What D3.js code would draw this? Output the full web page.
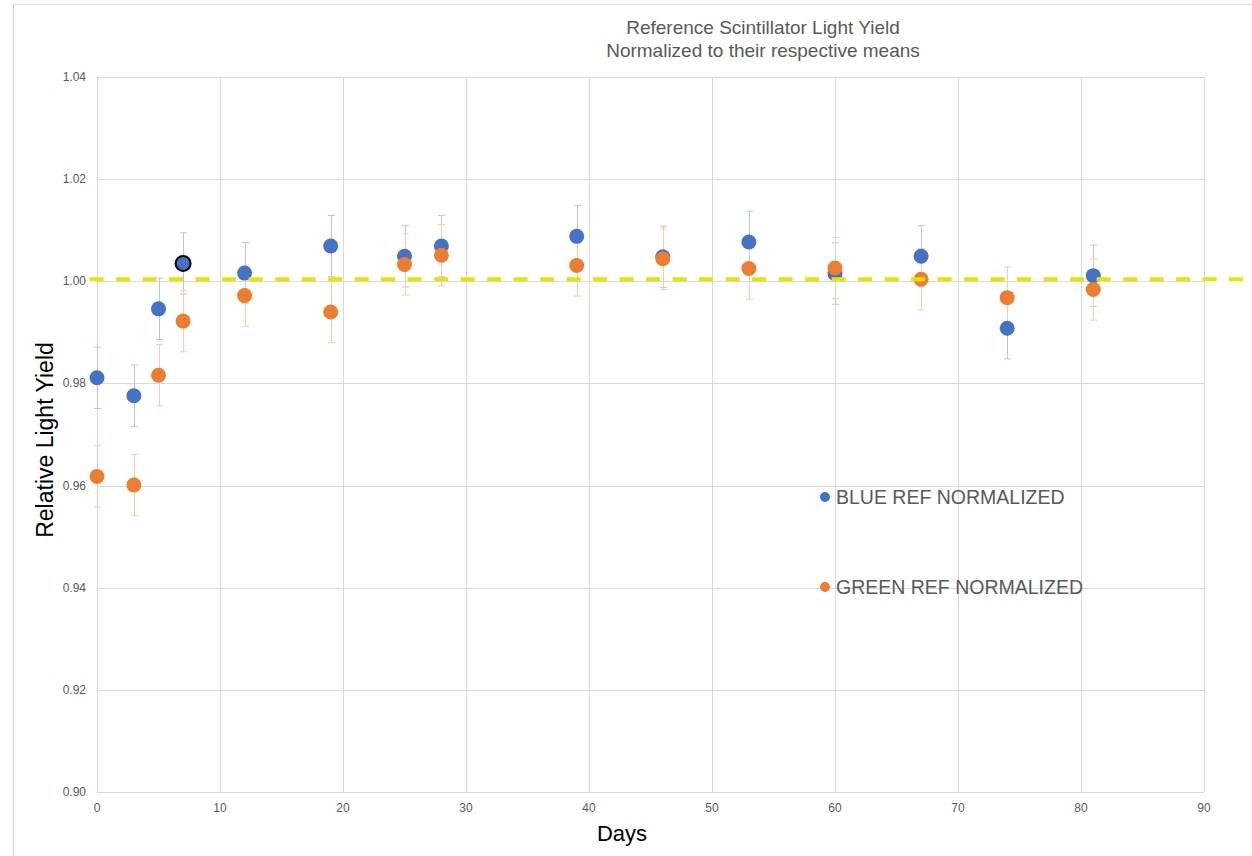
<!DOCTYPE html>
<html>
<head>
<meta charset="utf-8">
<script src="https://cdn.jsdelivr.net/npm/d3@7"></script>
<style>
  body { margin: 0; background: #fff; }
  svg { font-family: "Liberation Sans", Arial, sans-serif; }
  .grid line { stroke: #d9d9d9; stroke-width: 1; }
  .tick-label { fill: #595959; font-size: 12px; }
</style>
</head>
<body>
<svg id="chart" width="1252" height="856"></svg>
<script>
// data
var days = [0, 3, 5, 7, 12, 19, 25, 28, 39, 46, 53, 60, 67, 74, 81];
var blueRef = [0.9811, 0.9776, 0.9946, 1.0035, 1.0016, 1.0069, 1.0049, 1.0069, 1.0088, 1.0048, 1.0077, 1.0015, 1.0049, 0.9908, 1.0011];
var greenRef = [0.9618, 0.9601, 0.9816, 0.9922, 0.9972, 0.9940, 1.0033, 1.0051, 1.0031, 1.0044, 1.0025, 1.0026, 1.0004, 0.9968, 0.9984];
var blueErr = [0.006, 0.006, 0.006, 0.006, 0.006, 0.006, 0.006, 0.006, 0.006, 0.006, 0.006, 0.006, 0.006, 0.006, 0.006];
var greenErr = [0.006, 0.006, 0.006, 0.006, 0.006, 0.006, 0.006, 0.006, 0.006, 0.006, 0.006, 0.006, 0.006, 0.006, 0.006];
var xTicks = [0, 10, 20, 30, 40, 50, 60, 70, 80, 90];
var yTicks = [0.90, 0.92, 0.94, 0.96, 0.98, 1.00, 1.02, 1.04];
var meanLevel = 1.0004;
var meanSpan = [-0.6, 94.5];
var highlightDay = 7;

var svg = d3.select('#chart');

// outer chart frame (only top and left edges fall inside the picture)
svg.append('rect')
    .attr('x', 13.5).attr('y', 4.5)
    .attr('width', 1300).attr('height', 900)
    .attr('fill', 'none')
    .attr('stroke', '#d9d9d9');

var x = d3.scaleLinear().domain([0, 90]).range([97, 1204]);
var y = d3.scaleLinear().domain([0.90, 1.04]).range([792, 77]);

// gridlines
var grid = svg.append('g').attr('class', 'grid');
grid.selectAll('.hg').data(yTicks).enter().append('line')
    .attr('x1', x(0)).attr('x2', x(90))
    .attr('y1', function(d) { return Math.round(y(d)) + 0.5; })
    .attr('y2', function(d) { return Math.round(y(d)) + 0.5; });
grid.selectAll('.vg').data(xTicks).enter().append('line')
    .attr('y1', y(0.90)).attr('y2', y(1.04))
    .attr('x1', function(d) { return Math.round(x(d)) + 0.5; })
    .attr('x2', function(d) { return Math.round(x(d)) + 0.5; });

// tick labels
svg.selectAll('.ylab').data(yTicks).enter().append('text')
    .attr('class', 'tick-label')
    .attr('x', 86)
    .attr('y', function(d) { return y(d) + 4; })
    .attr('text-anchor', 'end')
    .text(function(d) { return d3.format('.2f')(d); });
svg.selectAll('.xlab').data(xTicks).enter().append('text')
    .attr('class', 'tick-label')
    .attr('x', function(d) { return x(d); })
    .attr('y', 812)
    .attr('text-anchor', 'middle')
    .text(function(d) { return d; });

// axis titles
svg.append('text')
    .attr('x', 622).attr('y', 841)
    .attr('text-anchor', 'middle')
    .attr('font-size', '22px')
    .attr('fill', '#000')
    .text('Days');
svg.append('text')
    .attr('transform', 'translate(53,440) rotate(-90)')
    .attr('text-anchor', 'middle')
    .attr('font-size', '23px')
    .attr('fill', '#000')
    .text('Relative Light Yield');

// chart title
var title = svg.append('text')
    .attr('text-anchor', 'middle')
    .attr('font-size', '19px')
    .attr('fill', '#595959');
title.append('tspan').attr('x', 763).attr('y', 34).text('Reference Scintillator Light Yield');
title.append('tspan').attr('x', 763).attr('y', 57).text('Normalized to their respective means');

var series = [
    {name: 'BLUE REF NORMALIZED', values: blueRef, err: blueErr, color: '#4472c4', errColor: '#b4c7e7'},
    {name: 'GREEN REF NORMALIZED', values: greenRef, err: greenErr, color: '#ed7d31', errColor: '#f8cbad'}
];

// error bars
series.forEach(function(s) {
    var g = svg.append('g')
        .attr('stroke', s.errColor)
        .attr('stroke-width', 1)
        .attr('fill', 'none');
    days.forEach(function(d, i) {
        var cx = Math.round(x(d)) + 0.5;
        var top = y(s.values[i] + s.err[i]);
        var bot = y(s.values[i] - s.err[i]);
        g.append('line').attr('x1', cx).attr('x2', cx).attr('y1', top).attr('y2', bot);
        g.append('line').attr('x1', cx - 3.5).attr('x2', cx + 3.5).attr('y1', top).attr('y2', top);
        g.append('line').attr('x1', cx - 3.5).attr('x2', cx + 3.5).attr('y1', bot).attr('y2', bot);
    });
});

// markers
series.forEach(function(s) {
    svg.append('g').selectAll('circle')
        .data(days).enter().append('circle')
        .attr('cx', function(d) { return x(d); })
        .attr('cy', function(d, i) { return y(s.values[i]); })
        .attr('r', 7.5)
        .attr('fill', s.color)
        .attr('stroke', function(d) { return (s === series[0] && d === highlightDay) ? '#000' : 'none'; })
        .attr('stroke-width', 2);
});

// mean reference line
svg.append('line')
    .attr('x1', x(meanSpan[0])).attr('x2', x(meanSpan[1]))
    .attr('y1', y(meanLevel)).attr('y2', y(meanLevel))
    .attr('stroke', '#e2e600')
    .attr('stroke-width', 4)
    .attr('stroke-dasharray', '14,12.5');

// legend
var legend = svg.append('g');
series.forEach(function(s, i) {
    var ly = 497 + i * 90;
    legend.append('circle')
        .attr('cx', 825).attr('cy', ly)
        .attr('r', 5)
        .attr('fill', s.color);
    legend.append('text')
        .attr('x', 836).attr('y', ly + 6.5)
        .attr('font-size', '19.5px')
        .attr('fill', '#595959')
        .text(s.name);
});
</script>
</body>
</html>
